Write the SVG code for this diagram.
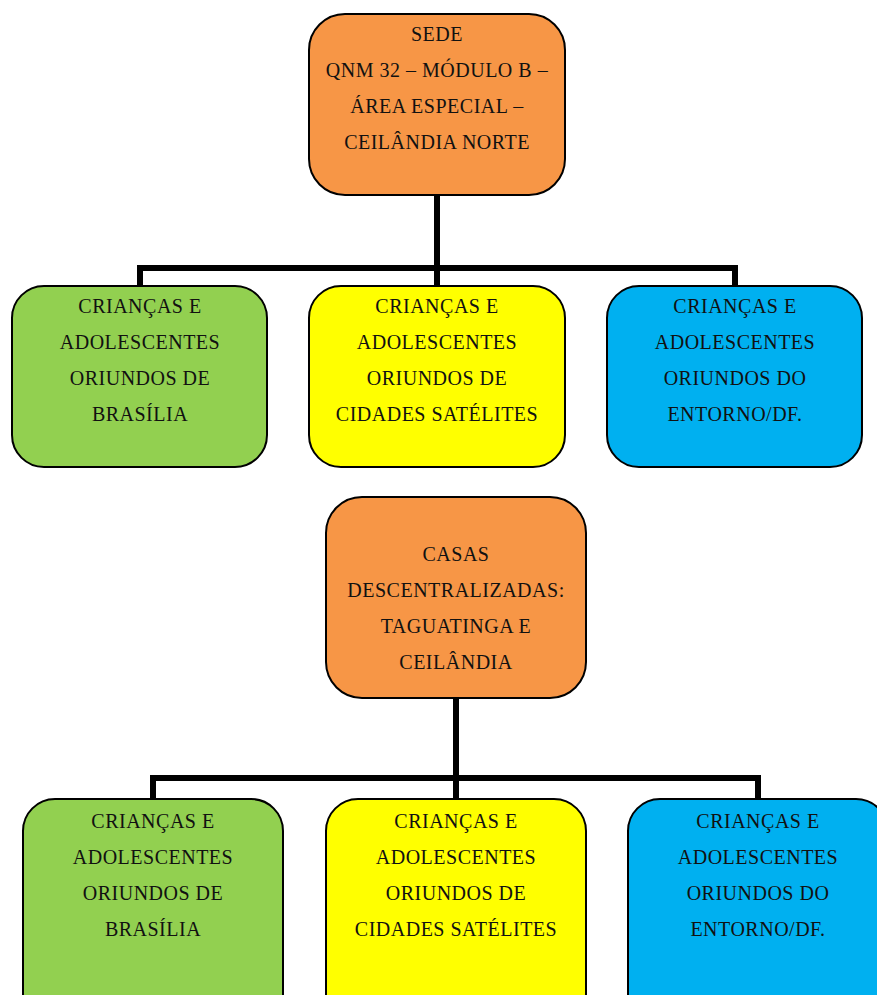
<svg xmlns="http://www.w3.org/2000/svg" width="877" height="995" viewBox="0 0 877 995">
<style>
.box{stroke:#000;stroke-width:2}
.o{fill:#F79646}.g{fill:#92D050}.y{fill:#FFFF00}.b{fill:#00B0F0}
text{font-family:"Liberation Serif","Times New Roman",serif;font-size:20px;fill:#111;text-anchor:middle;letter-spacing:0.5px}
.c{fill:none;stroke:#000;stroke-width:6;stroke-linejoin:miter}
</style>
<rect width="877" height="995" fill="#fff"/>
<g id="connectors">
<path class="c" d="M437,195 V268 M140,286 V268 H735 V286 M437,268 V286"/>
<path class="c" d="M456,698 V778 M153,800 V778 H758 V800 M456,778 V800"/>
</g>
<g id="sede">
<rect class="box o" x="309" y="14" width="256" height="181" rx="36"/>
<text x="437" y="41">SEDE</text>
<text x="437" y="77">QNM 32 – MÓDULO B –</text>
<text x="437" y="113">ÁREA ESPECIAL –</text>
<text x="437" y="149">CEILÂNDIA NORTE</text>
</g>
<g id="sede-brasilia">
<rect class="box g" x="12" y="286" width="255" height="181" rx="32"/>
<text x="140" y="313">CRIANÇAS E</text>
<text x="140" y="349">ADOLESCENTES</text>
<text x="140" y="385">ORIUNDOS DE</text>
<text x="140" y="421">BRASÍLIA</text>
</g>
<g id="sede-satelites">
<rect class="box y" x="309" y="286" width="256" height="181" rx="32"/>
<text x="437" y="313">CRIANÇAS E</text>
<text x="437" y="349">ADOLESCENTES</text>
<text x="437" y="385">ORIUNDOS DE</text>
<text x="437" y="421">CIDADES SATÉLITES</text>
</g>
<g id="sede-entorno">
<rect class="box b" x="607" y="286" width="255" height="181" rx="32"/>
<text x="735" y="313">CRIANÇAS E</text>
<text x="735" y="349">ADOLESCENTES</text>
<text x="735" y="385">ORIUNDOS DO</text>
<text x="735" y="421">ENTORNO/DF.</text>
</g>
<g id="casas">
<rect class="box o" x="326" y="497" width="260" height="201" rx="36"/>
<text x="456" y="561">CASAS</text>
<text x="456" y="597">DESCENTRALIZADAS:</text>
<text x="456" y="633">TAGUATINGA E</text>
<text x="456" y="669">CEILÂNDIA</text>
</g>
<g id="casas-brasilia">
<rect class="box g" x="23" y="799" width="260" height="230" rx="32"/>
<text x="153" y="828">CRIANÇAS E</text>
<text x="153" y="864">ADOLESCENTES</text>
<text x="153" y="900">ORIUNDOS DE</text>
<text x="153" y="936">BRASÍLIA</text>
</g>
<g id="casas-satelites">
<rect class="box y" x="326" y="799" width="260" height="230" rx="32"/>
<text x="456" y="828">CRIANÇAS E</text>
<text x="456" y="864">ADOLESCENTES</text>
<text x="456" y="900">ORIUNDOS DE</text>
<text x="456" y="936">CIDADES SATÉLITES</text>
</g>
<g id="casas-entorno">
<rect class="box b" x="628" y="799" width="260" height="230" rx="32"/>
<text x="758" y="828">CRIANÇAS E</text>
<text x="758" y="864">ADOLESCENTES</text>
<text x="758" y="900">ORIUNDOS DO</text>
<text x="758" y="936">ENTORNO/DF.</text>
</g>
</svg>
